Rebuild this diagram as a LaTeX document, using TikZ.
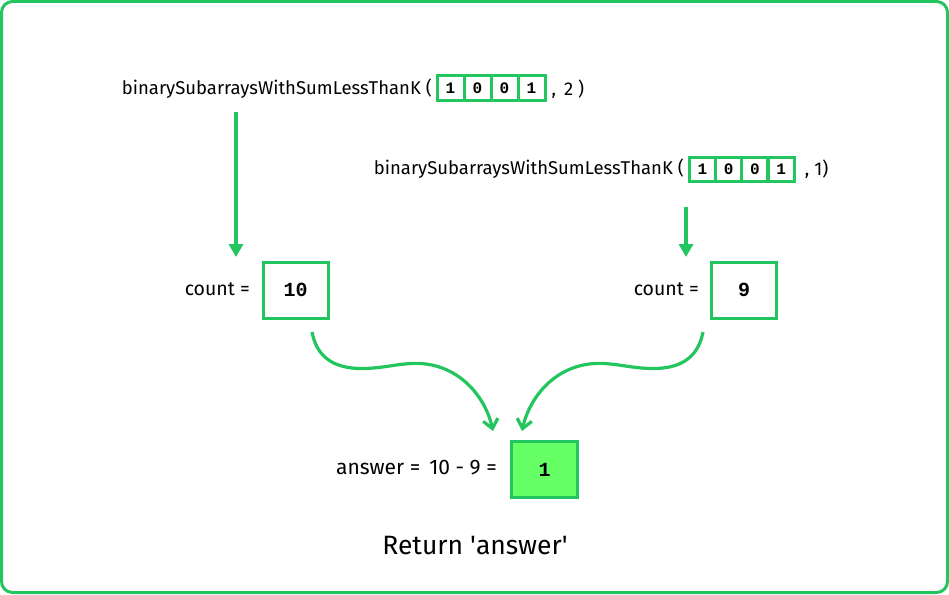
\documentclass[tikz,border=0pt]{standalone}
\usepackage{fontspec}
\setmainfont{Fira Sans}
\newfontfamily\monofont{Liberation Mono}
\usepackage{xcolor}
\usetikzlibrary{arrows.meta,positioning,calc}
\definecolor{gfggreen}{RGB}{34,197,94}
\definecolor{lightgfg}{RGB}{102,255,102}
\tikzset{
	cellbox/.style={draw=gfggreen,line width=3pt,minimum width=27pt,minimum height=25pt,inner sep=0pt,font=\fontsize{16}{16}\selectfont\monofont\bfseries},
	valbox/.style={draw=gfggreen,line width=3pt,minimum width=65pt,minimum height=56pt,inner sep=0pt,font=\fontsize{20}{20}\selectfont\monofont\bfseries},
	label/.style={inner sep=0pt,font=\fontsize{19.5}{19.5}\selectfont},
	calltext/.style={label,font=\fontsize{18.5}{18.5}\selectfont},
	downarrow/.style={draw=gfggreen,line width=3.2pt,-{Triangle[length=13pt,width=14pt]}},
	wavearrow/.style={draw=gfggreen,line width=3.2pt,-{Straight Barb[length=9pt,width=15pt]}}
}
\begin{document}
\begin{tikzpicture}[x=1pt,y=-1pt]
		\useasboundingbox (0,0) rectangle (949,594);
		\draw[gfggreen,line width=3pt,rounded corners=11pt] (1.5,1.5) rectangle (947.5,592.5);
		% first call
		\foreach \d [count=\i] in {1,0,0,1}
			\node[cellbox] (a\i) at (423.5+27*\i,88) {\d};
		\node[calltext,anchor=east] (callA) at (432,89) {binarySubarraysWithSumLessThanK (};
		\node[calltext,anchor=west] (argA) at ($(a4.east)+(5,1)$) {,\, 2 )};
		% second call
		\foreach \d [count=\i] in {1,0,0,1}
			\node[cellbox,minimum width=26pt,minimum height=24pt] (b\i) at (676+26.3*\i,169) {\d};
		\node[calltext,anchor=east] (callB) at (684,169) {binarySubarraysWithSumLessThanK (};
		\node[calltext,anchor=west] (argB) at ($(b4.east)+(9,0)$) {, 1)};
		% counts
		\node[valbox] (cntA) at (295.5,290) {10};
		\node[label,anchor=east] (eqA) at (250,289) {count =};
		\node[valbox] (cntB) at (744,290) {9};
		\node[label,anchor=east] (eqB) at (699,289) {count =};
		% answer
		\node[valbox,fill=lightgfg,minimum width=66pt,minimum height=56pt] (ans) at (544.5,469.5) {1};
		\node[label,font=\fontsize{21}{21}\selectfont,anchor=east] (eqAns) at (497,468) {answer =\hspace{9pt}10 - 9 =};
		\node[inner sep=0pt,font=\fontsize{26.5}{26.5}\selectfont] (ret) at (475,546) {Return \textquotesingle answer\textquotesingle};
		% arrows
		\coordinate (topA) at (236,112);
		\coordinate (tipA) at (236,257);
		\coordinate (topB) at (686,207);
		\coordinate (tipB) at (686,257);
		\draw[downarrow] (topA) -- (tipA);
		\draw[downarrow] (topB) -- (tipB);
		\coordinate (startA) at (312,332);
		\coordinate (endA) at (493,431);
		\coordinate (startB) at (703,332);
		\coordinate (endB) at (522,431);
		\draw[wavearrow] (startA) .. controls (322,385) and (385,365) .. (405,364) .. controls (455,358) and (485,395) .. (endA);
		\draw[wavearrow] (startB) .. controls (693,385) and (630,365) .. (610,364) .. controls (560,358) and (530,395) .. (endB);
	\end{tikzpicture}
\end{document}
